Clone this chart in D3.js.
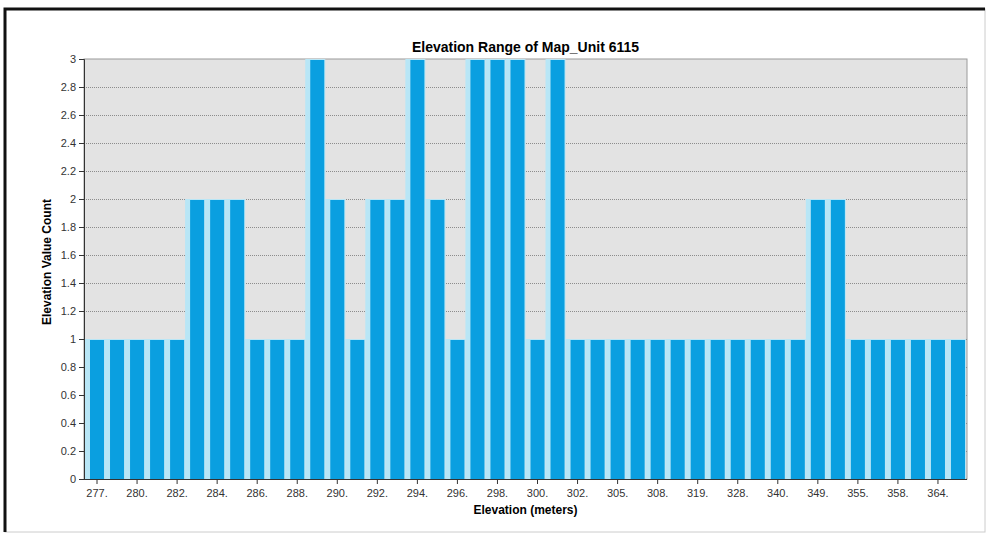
<!DOCTYPE html>
<html>
<head>
<meta charset="utf-8">
<script src="https://cdn.jsdelivr.net/npm/d3@7"></script>
<style>
  body { margin: 0; background: #fff; }
  text { font-family: "Liberation Sans", Arial, sans-serif; }
</style>
</head>
<body>
<div id="chart"></div>
<script>
// elevation bins (only every other one is labelled on the axis)
const elevations = [277, 279, 280, 281, 282, 283, 284, 285, 286, 287, 288, 289,
    290, 291, 292, 293, 294, 295, 296, 297, 298, 299, 300, 301, 302, 304,
    305, 306, 308, 312, 319, 324, 328, 333, 340, 345, 349, 352, 355, 356,
    358, 361, 364, 367];
const counts = [1, 1, 1, 1, 1, 2, 2, 2, 1, 1, 1, 3, 2, 1, 2, 2, 3, 2, 1, 3, 3, 3,
    1, 3, 1, 1, 1, 1, 1, 1, 1, 1, 1, 1, 1, 1, 2, 2, 1, 1, 1, 1, 1, 1];
const yTicks = [0, 0.2, 0.4, 0.6, 0.8, 1, 1.2, 1.4, 1.6, 1.8, 2, 2.2, 2.4, 2.6, 2.8, 3];

const w = 992, h = 538;
const pLeft = 84, pRight = 967, pTop = 59, pBottom = 479;

const svg = d3.select("#chart").append("svg")
    .attr("width", w)
    .attr("height", h);

// outer frame
svg.append("rect")
    .attr("x", 5).attr("y", 9)
    .attr("width", 980).attr("height", 523)
    .attr("fill", "none")
    .attr("stroke", "#ccc")
    .attr("stroke-width", 1);
svg.append("path")
    .attr("d", "M5,532V9H985")
    .attr("fill", "none")
    .attr("stroke", "#111")
    .attr("stroke-width", 3);

const x = d3.scaleBand()
    .domain(elevations)
    .range([pLeft + 1, pRight - 1])
    .padding(0);

const y = d3.scaleLinear()
    .domain([0, 3])
    .range([pBottom, pTop]);

// plot background
svg.append("rect")
    .attr("x", pLeft).attr("y", pTop)
    .attr("width", pRight - pLeft).attr("height", pBottom - pTop)
    .attr("fill", "#e3e3e3")
    .attr("stroke", "#9a9a9a");

// grid
svg.append("g")
    .selectAll("line")
    .data(yTicks.filter(d => d > 0 && d < 3))
    .enter().append("line")
    .attr("x1", pLeft).attr("x2", pRight)
    .attr("y1", d => Math.round(y(d)) + 0.5)
    .attr("y2", d => Math.round(y(d)) + 0.5)
    .attr("stroke", "#8c8c8c")
    .attr("stroke-dasharray", "1,1");

// bars: light halo, then solid bar
const bars = svg.append("g")
    .selectAll("g")
    .data(elevations.map((e, i) => ({ e: e, v: counts[i] })))
    .enter().append("g");

bars.append("rect")
    .attr("x", d => x(d.e))
    .attr("y", d => y(d.v))
    .attr("width", x.bandwidth())
    .attr("height", d => pBottom - y(d.v))
    .attr("fill", "#b8e6f6");

bars.append("rect")
    .attr("x", d => x(d.e) + 5)
    .attr("y", d => y(d.v) + 1)
    .attr("width", x.bandwidth() - 6)
    .attr("height", d => pBottom - y(d.v) - 1)
    .attr("fill", "#0a9fe0");

// y axis
const yAxis = svg.append("g")
    .attr("transform", `translate(${pLeft},0)`)
    .call(d3.axisLeft(y).tickValues(yTicks).tickSize(5).tickPadding(3)
        .tickFormat(d => d3.format("~g")(d)));
yAxis.select(".domain").attr("stroke", "#333");
yAxis.selectAll(".tick line").attr("stroke", "#333");
yAxis.selectAll("text").attr("font-size", 11).attr("fill", "#333");

// x axis
const xAxis = svg.append("g")
    .attr("transform", `translate(0,${pBottom})`)
    .call(d3.axisBottom(x)
        .tickValues(elevations.filter((d, i) => i % 2 === 0))
        .tickSize(5).tickPadding(5)
        .tickFormat(d => d + "."));
xAxis.select(".domain").attr("stroke", "#333").attr("d", `M${pLeft},0.5H${pRight}`);
xAxis.selectAll(".tick").attr("transform", d => `translate(${x(d) + 2 + x.bandwidth() / 2},0)`);
xAxis.selectAll(".tick line").attr("stroke", "#333");
xAxis.selectAll("text").attr("font-size", 11).attr("fill", "#333");

// titles
svg.append("text")
    .attr("x", (pLeft + pRight) / 2)
    .attr("y", 52)
    .attr("text-anchor", "middle")
    .attr("font-size", 14)
    .attr("font-weight", "bold")
    .text("Elevation Range of Map_Unit 6115");

svg.append("text")
    .attr("x", (pLeft + pRight) / 2)
    .attr("y", 514)
    .attr("text-anchor", "middle")
    .attr("font-size", 12)
    .attr("font-weight", "bold")
    .text("Elevation (meters)");

svg.append("text")
    .attr("transform", "translate(51,262) rotate(-90)")
    .attr("text-anchor", "middle")
    .attr("font-size", 12)
    .attr("font-weight", "bold")
    .text("Elevation Value Count");
</script>
</body>
</html>
